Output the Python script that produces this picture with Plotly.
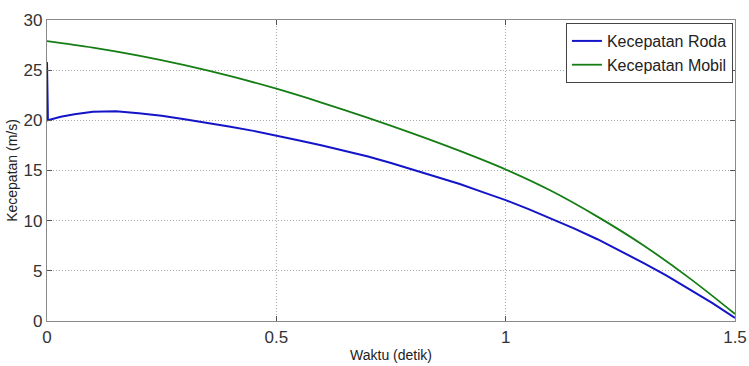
import plotly.graph_objects as go

# Data
t_mobil = [0.0, 0.1, 0.2, 0.3, 0.4, 0.5, 0.6, 0.7, 0.8, 0.9, 1.0, 1.1, 1.2, 1.3, 1.4, 1.5]
v_mobil = [27.9, 27.25, 26.45, 25.5, 24.4, 23.15, 21.75, 20.25, 18.65, 16.95, 15.1, 12.95, 10.4, 7.55, 4.3, 0.7]

t_roda = [0.0, 0.002, 0.03, 0.06, 0.1, 0.15, 0.2, 0.25, 0.3, 0.35, 0.4, 0.45, 0.5, 0.55, 0.6, 0.65,
          0.7, 0.75, 0.8, 0.85, 0.9, 0.95, 1.0, 1.05, 1.1, 1.15, 1.2, 1.25, 1.3, 1.35, 1.4, 1.45, 1.5]
v_roda = [25.8, 20.0, 20.35, 20.6, 20.85, 20.9, 20.7, 20.45, 20.1, 19.75, 19.35, 18.95, 18.5, 18.0, 17.5, 16.95,
          16.4, 15.75, 15.05, 14.35, 13.65, 12.85, 12.05, 11.15, 10.2, 9.2, 8.15, 7.0, 5.8, 4.55, 3.2, 1.8, 0.3]

x_ticks = [0, 0.5, 1, 1.5]
x_ticktext = ["0", "0.5", "1", "1.5"]
y_ticks = [0, 5, 10, 15, 20, 25, 30]

font_family = "Liberation Sans, Arial, sans-serif"

fig = go.Figure()
fig.add_trace(go.Scatter(x=t_roda, y=v_roda, mode="lines", name="Kecepatan Roda",
                         line=dict(color="rgb(20,20,200)", width=2)))
fig.add_trace(go.Scatter(x=t_mobil, y=v_mobil, mode="lines", name="Kecepatan Mobil",
                         line=dict(color="rgb(20,125,20)", width=1.8, shape="spline")))

axis_common = dict(
    showline=True, linecolor="#8a8a8a", linewidth=1.2, mirror="ticks",
    ticks="inside", ticklen=5, tickcolor="#555555",
    showgrid=True, gridcolor="#a8a8a8", griddash="1px,2px", gridwidth=1,
    zeroline=False, automargin=False,
    tickfont=dict(family=font_family, size=17, color="#333333"),
)

fig.update_layout(
    width=749, height=366,
    margin=dict(l=47, r=14, t=20, b=45),
    paper_bgcolor="white", plot_bgcolor="white",
    font=dict(family=font_family, color="#222222"),
    xaxis=dict(range=[0, 1.5], tickvals=x_ticks, ticktext=x_ticktext,
               title=dict(text="Waktu (detik)", font=dict(size=14, color="#222222"), standoff=4),
               **axis_common),
    yaxis=dict(range=[0, 30], tickvals=y_ticks,
               title=dict(text="Kecepatan (m/s)", font=dict(size=14, color="#222222"), standoff=2),
               **axis_common),
    legend=dict(x=0.997, y=0.99, xanchor="right", yanchor="top",
                bgcolor="white", bordercolor="#444444", borderwidth=1,
                font=dict(family=font_family, size=16, color="#222222"),
                tracegroupgap=0, itemwidth=30),
    showlegend=True,
)

fig.write_html("out.html")
